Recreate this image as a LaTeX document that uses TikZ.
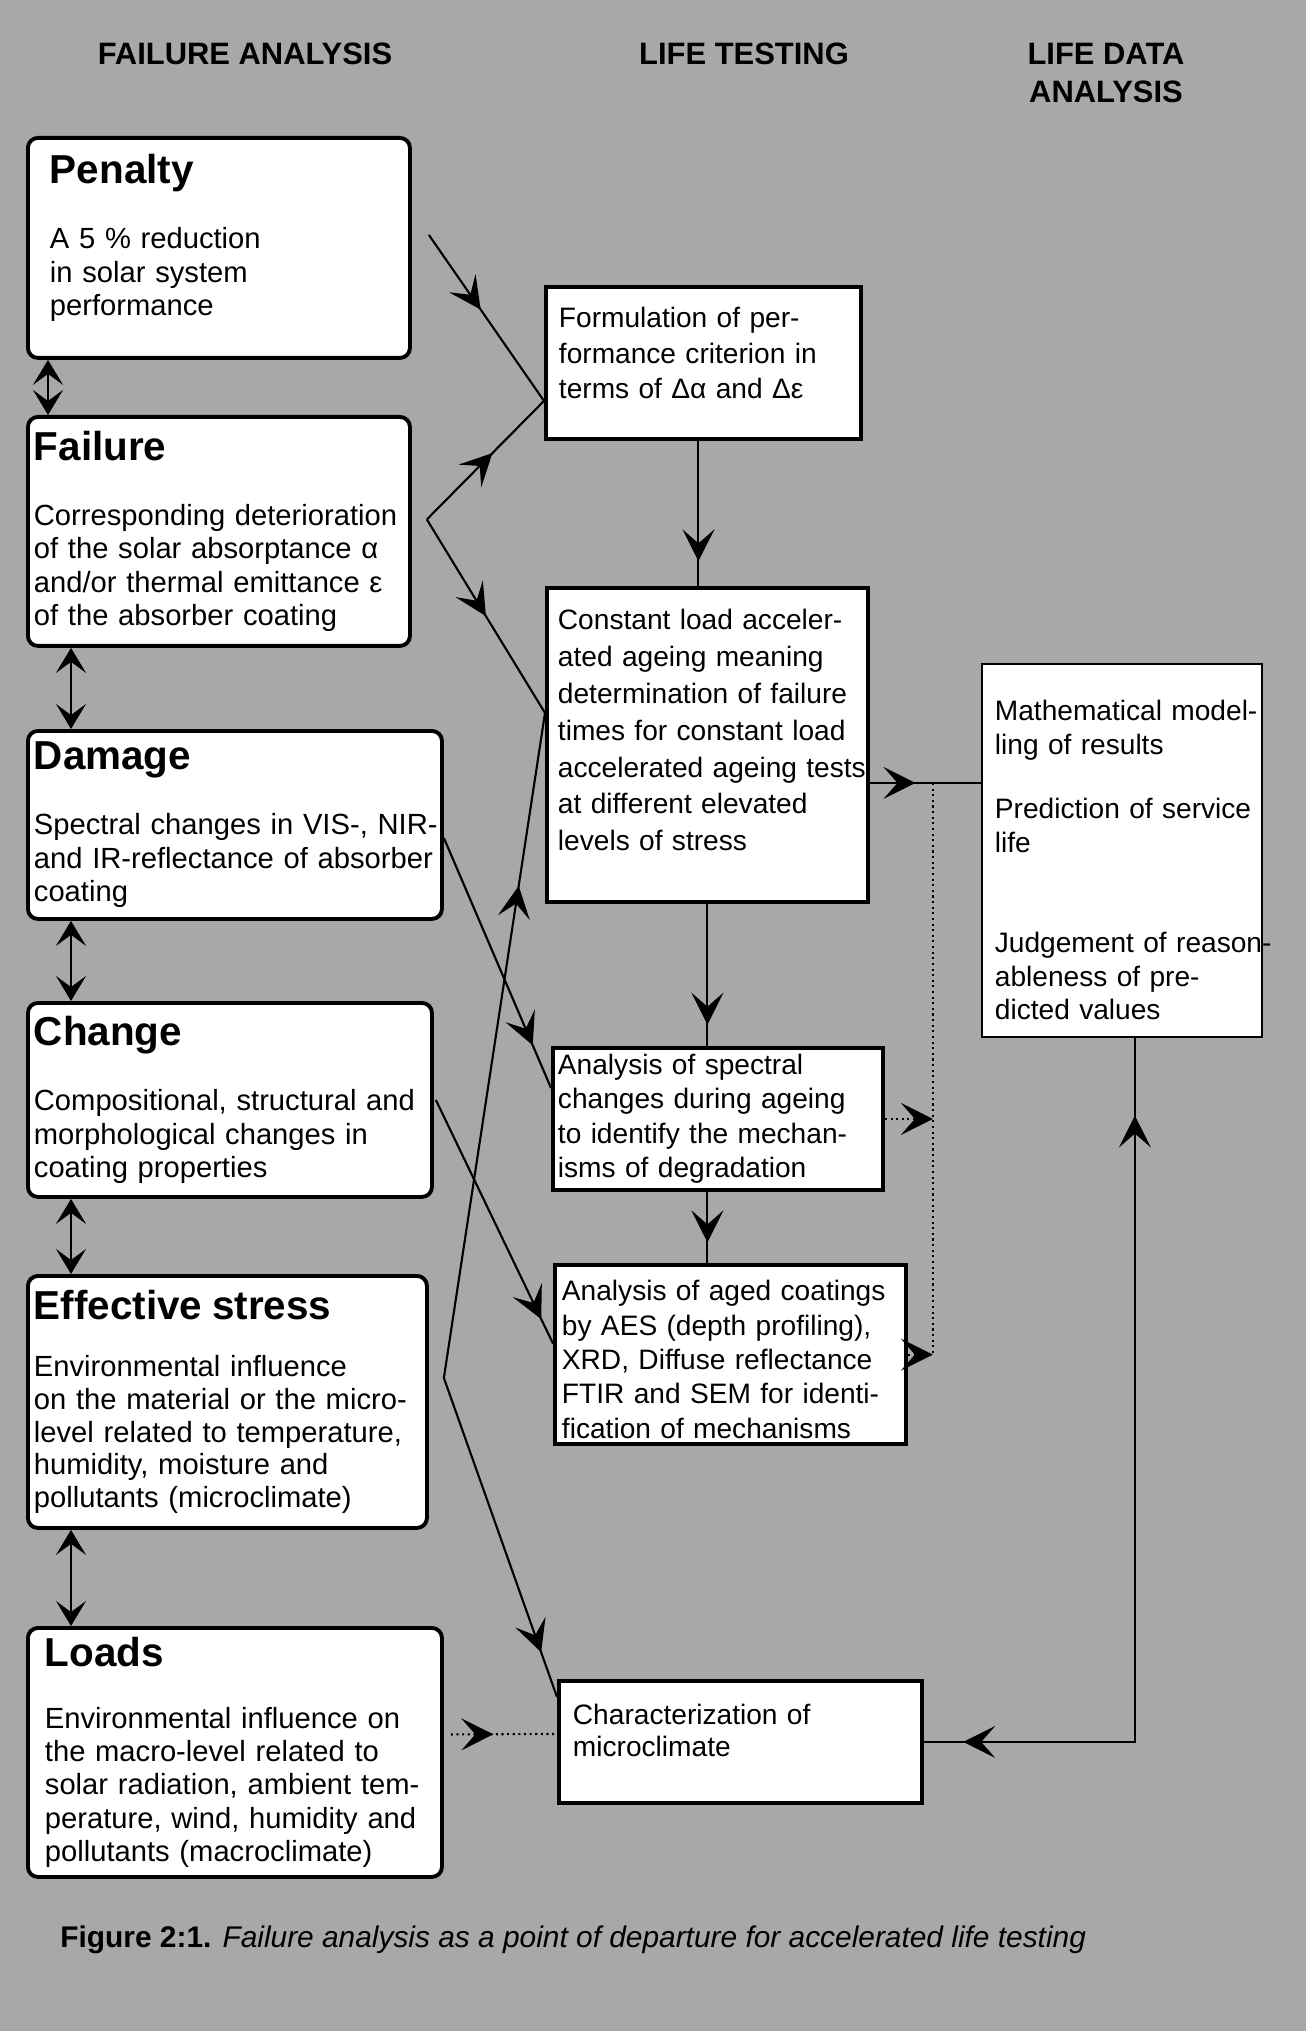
\documentclass[tikz,border=0pt]{standalone}
\usepackage{fontspec}
\setmainfont{Liberation Sans}
\usetikzlibrary{arrows.meta,positioning,decorations.markings}
\definecolor{ScreenGray}{gray}{0.66}
\newcommand{\bodyfont}{\fontsize{8}{9.6}\selectfont}
\newcommand{\leftfont}{\fontsize{8.3}{9.5}\selectfont}
\newcommand{\headfont}{\fontsize{11.5}{13}\selectfont\bfseries}
\newcommand{\colfont}{\fontsize{8.8}{11}\selectfont\bfseries}
\newcommand{\botgap}[1]{\rule[-#1]{0pt}{#1}}
\newcommand{\topgap}[1]{\rule{0pt}{#1}}
\tikzset{
  stage/.style={draw,line width=1.1pt,rounded corners=1mm,fill=white,
    anchor=north west,align=left,font=\leftfont,inner ysep=.6mm},
  test/.style={draw,line width=1.1pt,fill=white,anchor=north west,
    align=left,font=\bodyfont,inner ysep=.6mm},
  result/.style={draw,line width=.5pt,fill=white,anchor=north west,
    align=left,font=\bodyfont,inner ysep=0pt},
  colhead/.style={font=\colfont,align=center},
  barb/.tip={Stealth[length=3.2mm,width=3.2mm,inset=1.4mm]},
  dbl/.tip={Stealth[length=2.5mm,width=3mm,inset=1.1mm]},
  link/.style={line width=.6pt},
  midarrow/.style={link,postaction={decorate},decoration={markings,
    mark=at position #1 with {\arrow{barb}}}},
  twoway/.style={link,dbl-dbl},
  backfwd/.style={link,postaction={decorate},decoration={markings,
    mark=at position .085 with {\arrowreversed{barb}},
    mark=at position .957 with {\arrow{barb}}}}
}

\begin{document}
\begin{tikzpicture}[x=0.1mm,y=-0.1mm]
  \fill[ScreenGray] (0,0) rectangle (1306,2031);

  \node[colhead] (hfail) at (245,54) {FAILURE ANALYSIS};
  \node[colhead] (htest) at (744,54) {LIFE TESTING};
  \node[colhead] (hdata) at (1106,73) {LIFE DATA\\ANALYSIS};

  % failure analysis chain
  \node[stage,minimum height=22mm,text width=33.8mm,inner xsep=2.2mm] (pen) at (26,136)
    {{\headfont Penalty}\\[9pt]A 5 \% reduction\\in solar system\\performance\botgap{2.6mm}};
  \node[stage,minimum height=22.9mm,text width=37mm,inner xsep=.6mm] (fail) at (26,415)
    {{\headfont Failure}\\[9pt]Corresponding deterioration\\of the solar absorptance α\\and/or thermal emittance ε\\of the absorber coating};
  \node[stage,minimum height=18.8mm,text width=40.2mm,inner xsep=.6mm] (dam) at (26,729)
    {{\headfont Damage}\\[9pt]\mbox{Spectral changes in VIS-, NIR-}\\and IR-reflectance of absorber\\coating};
  \node[stage,minimum height=19.4mm,text width=39.2mm,inner xsep=.6mm] (chg) at (26,1001)
    {{\headfont Change}\\[9pt]Compositional, structural and\\morphological changes in\\coating properties};
  \node[stage,minimum height=25.2mm,text width=38.7mm,inner xsep=.6mm,
    font={\fontsize{8.3}{9.3}\selectfont}] (eff) at (26,1274)
    {{\headfont Effective stress}\\[7pt]Environmental influence\\on the material or the micro-\\level related to temperature,\\humidity, moisture and\\pollutants (microclimate)};
  \node[stage,minimum height=24.9mm,text width=38mm,inner xsep=1.7mm] (loads) at (26,1626)
    {{\headfont Loads}\\[8pt]Environmental influence on\\the macro-level related to\\solar radiation, ambient tem-\\perature, wind, humidity and\\pollutants (macroclimate)};

  % life testing
  \node[test,minimum height=15.2mm,text width=28.9mm,inner xsep=1.3mm,
    font={\fontsize{8}{10.2}\selectfont}] (form) at (544,285)
    {Formulation of per-\\formance criterion in\\terms of Δα and Δε\botgap{2mm}};
  \node[test,minimum height=31.4mm,text width=29.9mm,inner xsep=1.1mm,
    font={\fontsize{8}{10.5}\selectfont}] (const) at (545,586)
    {Constant load acceler-\\ated ageing meaning\\determination of failure\\times for constant load\\\mbox{accelerated ageing tests}\\at different elevated\\levels of stress\botgap{3mm}};
  \node[test,minimum height=14.2mm,text width=32mm,inner xsep=.5mm,
    font={\fontsize{8}{9.8}\selectfont}] (spec) at (551,1046)
    {Analysis of spectral\\changes during ageing\\to identify the mechan-\\isms of degradation};
  \node[test,minimum height=17.8mm,text width=33.7mm,inner xsep=.7mm,
    font={\fontsize{8}{9.75}\selectfont}] (aged) at (553,1263)
    {\topgap{3mm}Analysis of aged coatings\\by AES (depth profiling),\\XRD, Diffuse reflectance\\FTIR and SEM for identi-\\fication of mechanisms};
  \node[test,minimum height=12.2mm,text width=33.5mm,inner xsep=1.4mm,
    font={\fontsize{8}{9.2}\selectfont}] (charz) at (557,1679)
    {Characterization of\\microclimate\botgap{2.3mm}};

  % life data analysis
  \node[result,minimum height=37.3mm,text width=25.4mm,inner xsep=1.3mm] (math) at (981,663)
    {\topgap{4mm}\mbox{Mathematical model-}\\ling of results\\[8.8pt]\mbox{Prediction of service}\\life\\[18.8pt]\mbox{Judgement of reason-}\\ableness of pre-\\dicted values};

  \node[anchor=west,font={\fontsize{8.5}{10}\selectfont}] (caption) at (48,1940)
    {\textbf{Figure 2:1.} \textit{Failure analysis as a point of departure for accelerated life testing}};

  \draw[twoway] ([xshift=2.2mm]pen.south west) -- ([xshift=2.2mm]fail.north west);
  \draw[twoway] ([xshift=4.5mm]fail.south west) -- ([xshift=4.5mm]dam.north west);
  \draw[twoway] ([xshift=4.5mm]dam.south west) -- ([xshift=4.5mm]chg.north west);
  \draw[twoway] ([xshift=4.5mm]chg.south west) -- ([xshift=4.5mm]eff.north west);
  \draw[twoway] ([xshift=4.5mm]eff.south west) -- ([xshift=4.5mm]loads.north west);

  \draw[midarrow=.45] ([xshift=1.7mm,yshift=1.3mm]pen.east) -- ([yshift=-3.8mm]form.west);
  \draw[midarrow=.56] ([xshift=1.5mm,yshift=1.2mm]fail.east) -- ([yshift=-3.8mm]form.west);
  \draw[midarrow=.5] ([xshift=1.5mm,yshift=1.2mm]fail.east) -- ([yshift=3.2mm]const.west);
  \draw[midarrow=.74] ([xshift=1.5mm,yshift=2.4mm]eff.east) -- ([yshift=3.2mm]const.west);
  \draw[midarrow=.83] ([yshift=-1.3mm]dam.east) -- ([yshift=3.1mm]spec.west);
  \draw[midarrow=.9] ([xshift=.2mm]chg.east) -- ([yshift=1.1mm]aged.west);
  \draw[midarrow=.86] ([xshift=1.5mm,yshift=2.4mm]eff.east) -- ([yshift=-1.8mm]charz.north west);
  \draw[midarrow=.4,densely dotted] ([xshift=.7mm,yshift=1.8mm]loads.east) -- ([yshift=.8mm]charz.west);

  \draw[midarrow=.83] ([xshift=-.5mm]form.south) -- ([xshift=-.5mm]form.south |- const.north);
  \draw[midarrow=.85] (const.south) -- (const.south |- spec.north);
  \draw[midarrow=.71] (const.south |- spec.south) -- (const.south |- aged.north);

  \coordinate (bus) at ([xshift=6.3mm,yshift=-3.8mm]const.east);
  \draw[midarrow=.41] ([yshift=-3.8mm]const.east) -- (bus -| math.west);
  \draw[link,densely dotted] (bus) -- (bus |- aged.east);
  \draw[link,densely dotted,-barb] (spec.east) -- (spec.east -| bus);
  \draw[link,densely dotted,-barb] (aged.east) -- (aged.east -| bus);
  \draw[backfwd] ([xshift=1.3mm]math.south) |- (charz.east);
\end{tikzpicture}
\end{document}
